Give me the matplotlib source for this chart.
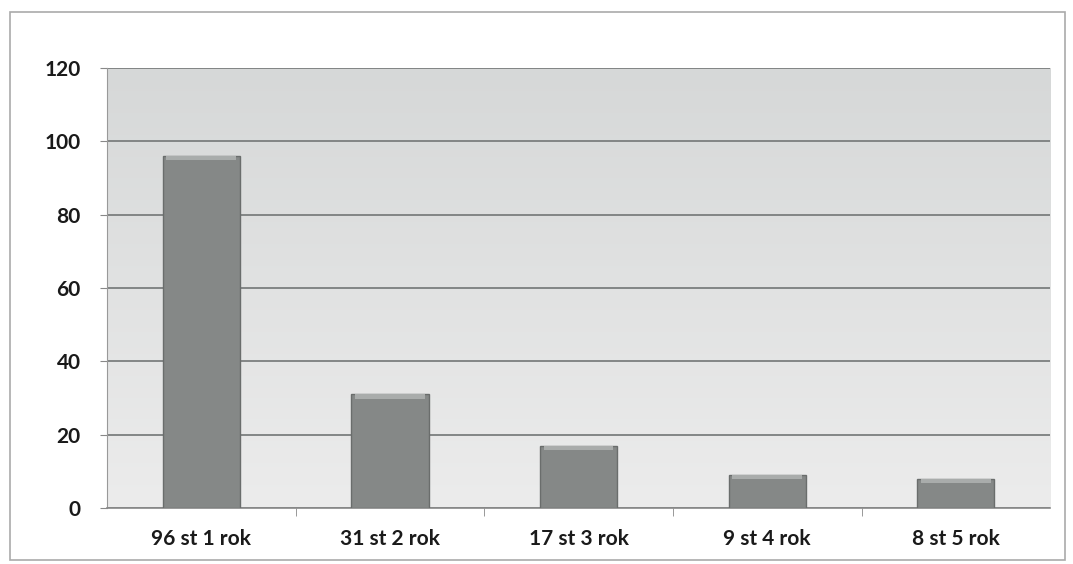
import matplotlib
matplotlib.use("Agg")
import matplotlib.pyplot as plt
import numpy as np
from matplotlib.patches import Rectangle

# data
categories = ["96 st 1 rok", "31 st 2 rok", "17 st 3 rok", "9 st 4 rok", "8 st 5 rok"]
values = [96, 31, 17, 9, 8]
yticks = [0, 20, 40, 60, 80, 100, 120]

plt.rcParams["font.family"] = ["Lato", "DejaVu Sans"]

fig = plt.figure(figsize=(10.73, 5.64), dpi=100)
ax = fig.add_axes([0.0997, 0.0993, 0.879, 0.78])

# gradient background for the plot area
grad = np.linspace(0, 1, 256).reshape(-1, 1)
ax.imshow(grad, cmap=matplotlib.colors.LinearSegmentedColormap.from_list(
    "bg", ["#ececec", "#d6d8d8"]), aspect="auto",
    extent=[-0.5, len(categories) - 0.5, 0, 120], origin="lower", zorder=0)

x = np.arange(len(categories))
ax.bar(x, values, width=0.41, color="#858887", edgecolor="#6a6d6c",
       linewidth=1.0, zorder=3)
# lighter top edge on bars
ax.bar(x, [1.2] * len(values), bottom=np.array(values) - 1.2, width=0.37,
       color="#a9acab", linewidth=0, zorder=4)

ax.set_xlim(-0.5, len(categories) - 0.5)
ax.set_ylim(0, 120)
ax.set_yticks(yticks)
ax.set_yticklabels([str(v) for v in yticks], fontsize=15, fontweight="bold",
                   color="#1a1a1a")
ax.set_xticks(x)
ax.set_xticklabels(categories, fontsize=15, fontweight="bold", color="#1a1a1a")
ax.tick_params(axis="x", length=0, pad=15)
ax.tick_params(axis="y", length=5, color="#888888", pad=14)
ax.set_xticks(np.arange(0.5, len(categories) - 0.5), minor=True)
ax.tick_params(axis="x", which="minor", length=6, color="#888888")

ax.yaxis.grid(True, color="#7b7e7e", linewidth=1.3, zorder=1)
ax.set_axisbelow(True)
for side in ["top", "right"]:
    ax.spines[side].set_visible(False)
ax.spines["left"].set_color("#999999")
ax.spines["bottom"].set_color("#888888")
ax.spines["bottom"].set_linewidth(1.2)

# outer frame of the chart
fig.patches.append(Rectangle((0.009, 0.007), 0.984, 0.971, transform=fig.transFigure,
                             fill=False, edgecolor="#aaaaaa", linewidth=1.2))

fig.savefig("out.png", dpi=100)
